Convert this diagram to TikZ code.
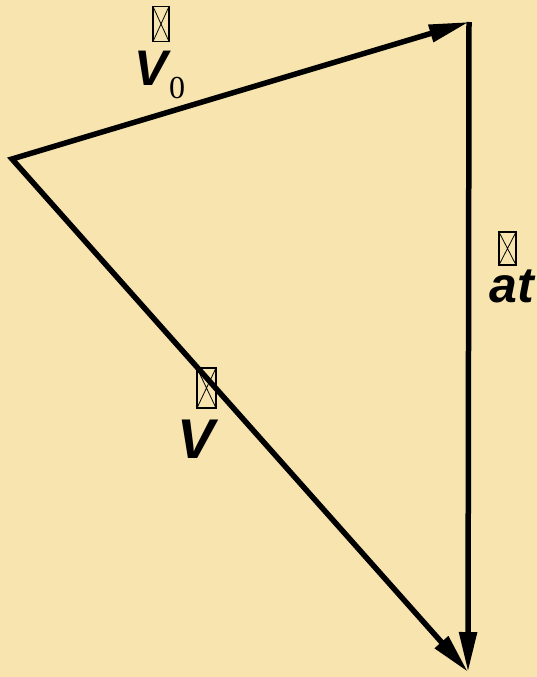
\documentclass[tikz,border=0pt]{standalone}
\usepackage{fontspec}
\setmainfont{Liberation Sans}
\newfontfamily\zerofont{Liberation Serif}
\usetikzlibrary{arrows.meta}
\definecolor{bg}{HTML}{F7E4AF}
\begin{document}
\begin{tikzpicture}[x=1pt,y=-1pt,
  vec/.style={line width=5.5pt, draw=black},
  hd/.tip={Triangle[length=40pt,width=17pt]},
  glyphbox/.style={draw, line width=1.2pt, inner sep=0pt, minimum width=16pt, minimum height=35pt,
    path picture={\draw[line width=0.8pt] (path picture bounding box.north west) -- (path picture bounding box.south east)
      (path picture bounding box.north east) -- (path picture bounding box.south west);}},
  lbl/.style={font=\bfseries\itshape, anchor=base, inner sep=0pt}]
\fill[bg] (0,0) rectangle (537,677);
\useasboundingbox (0,0) rectangle (537,677);
\coordinate (A) at (12,159);
\coordinate (B) at (469,22);
\coordinate (C) at (468,672);
\draw[vec, {hd}-{hd}] (B) -- (A) -- (C);
\draw[vec, -{hd}] (B) -- (C);
% labels
\node[glyphbox] (b0) at (161,24) {};
\node[lbl, font=\fontsize{50}{50}\selectfont\bfseries\itshape] (lv0) at (151,85) {V};
\node[anchor=base, inner sep=0pt, font=\fontsize{32}{32}\selectfont\zerofont] (sub0) at (177,98) {0};
\node[glyphbox, minimum width=17pt, minimum height=33pt] (b1) at (507.5,248.5) {};
\node[lbl, font=\fontsize{50}{50}\selectfont\bfseries\itshape] (lat) at (512,302) {at};
\node[glyphbox, minimum width=19pt, minimum height=40pt] (b2) at (206.5,388) {};
\node[lbl, font=\fontsize{56}{56}\selectfont\bfseries\itshape] (lv) at (196,458) {V};
\end{tikzpicture}
\end{document}
